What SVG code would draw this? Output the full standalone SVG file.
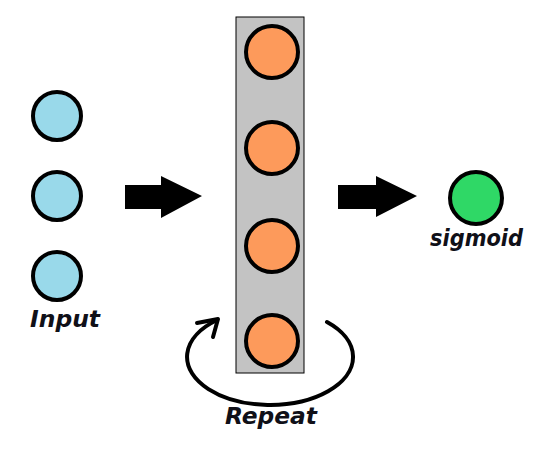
<svg xmlns="http://www.w3.org/2000/svg" width="536" height="452" viewBox="0 0 536 452">
<style>
.in{fill:#99d9ea;stroke:#000;stroke-width:4}
.hid{fill:#fd9a5b;stroke:#000;stroke-width:4}
.out{fill:#2fd866;stroke:#000;stroke-width:4}
.lbl{font-family:"DejaVu Sans","Liberation Sans",sans-serif;font-style:italic;font-weight:bold;font-size:23px;fill:#101018}
.arr{fill:#000}
.loop{fill:none;stroke:#000;stroke-width:4;stroke-linecap:round;stroke-linejoin:round}
</style>
<rect width="536" height="452" fill="#fff"/>
<g id="input-layer">
<circle class="in" cx="57" cy="116" r="24"/>
<circle class="in" cx="57" cy="196" r="24"/>
<circle class="in" cx="57" cy="276" r="24"/>
<text class="lbl" x="30" y="327" textLength="70" lengthAdjust="spacingAndGlyphs">Input</text>
</g>
<g id="connectors">
<path class="loop" d="M327 322 A83 48 0 1 1 217 320"/>
<polyline class="loop" points="197,323 218,319 213,337"/>
<polygon class="arr" points="125,185 161,185 161,176 202,196 161,218 161,209 125,209"/>
<polygon class="arr" points="338,185 376,185 376,176 417,196 376,217 376,209 338,209"/>
</g>
<g id="hidden-layer">
<rect x="236" y="17" width="68" height="356" fill="#c3c3c3" stroke="#000" stroke-width="1"/>
<circle class="hid" cx="272" cy="52" r="26"/>
<circle class="hid" cx="272" cy="148" r="26"/>
<circle class="hid" cx="272" cy="246" r="26"/>
<circle class="hid" cx="272" cy="341" r="26"/>
</g>
<g id="output">
<circle class="out" cx="476" cy="198" r="26"/>
<text class="lbl" x="430" y="246" textLength="93" lengthAdjust="spacingAndGlyphs">sigmoid</text>
</g>
<g id="repeat-label">
<text class="lbl" x="225" y="424" textLength="92" lengthAdjust="spacingAndGlyphs">Repeat</text>
</g>
</svg>
